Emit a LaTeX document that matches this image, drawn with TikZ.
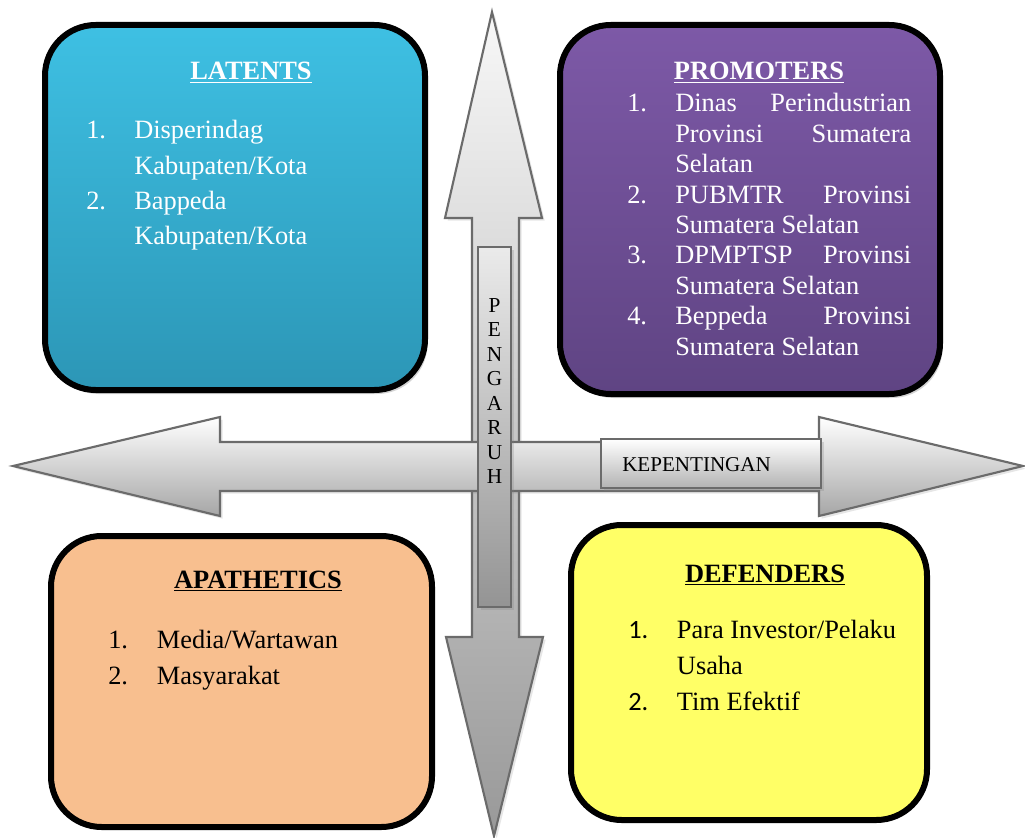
\documentclass[tikz,border=0pt]{standalone}
\usepackage{fontspec}
\setmainfont{Liberation Serif}
\newfontfamily\numfont{Carlito}
\usetikzlibrary{shadows}
\definecolor{latentblue}{RGB}{62,192,227}
\definecolor{latentbluedark}{RGB}{44,150,182}
\definecolor{promoterpurple}{RGB}{125,89,167}
\definecolor{promoterpurpledark}{RGB}{95,68,131}
\definecolor{apatheticorange}{RGB}{248,191,143}
\definecolor{defenderyellow}{RGB}{255,255,102}
\tikzset{
	boxstyle/.style={rectangle,rounded corners=38pt,draw=black,line width=4.5pt},
	arrowstyle/.style={draw=black!58,line width=1.6pt,line join=miter},
	labelstyle/.style={rectangle,draw=black!58,line width=1.6pt,inner sep=0pt},
	titlestyle/.style={anchor=base,inner sep=0pt,font=\fontsize{19.8}{24}\selectfont\bfseries},
	liststyle/.style={anchor=base west,inner sep=0pt,font=\fontsize{19.8}{#1}\selectfont}
}

\begin{document}
\begin{tikzpicture}[x=0.75pt,y=-0.75pt]
	\useasboundingbox (0,0) rectangle (1025,838);
	% arrows
	\draw[arrowstyle,top color=black!3,bottom color=black!40,drop shadow={opacity=0.2,shadow xshift=2pt,shadow yshift=-2pt}]
		(492,12) -- (542,218) -- (519,218) -- (519,637) -- (543,637) -- (494,836)
		-- (446,637) -- (472,637) -- (472,218) -- (445,218) -- cycle;
	\draw[arrowstyle,top color=white,bottom color=black!35,drop shadow={opacity=0.2,shadow xshift=2pt,shadow yshift=-2pt}]
		(13,466) -- (220,417) -- (220,442) -- (819,442) -- (819,417) -- (1023,466)
		-- (819,516) -- (819,491) -- (220,491) -- (220,516) -- cycle;
	% axis labels
	\node[labelstyle,minimum width=24.75pt,minimum height=270pt,top color=black!8,bottom color=black!42,
		drop shadow={opacity=0.25,shadow xshift=2pt,shadow yshift=-2pt}] (pengaruh) at (494.5,427) {};
	\node[align=center,inner sep=0pt,font=\fontsize{16}{18.4}\selectfont] (pengaruhtext) at (494.5,391)
		{P\\E\\N\\G\\A\\R\\U\\H};
	\node[labelstyle,minimum width=165pt,minimum height=36.75pt,top color=white,bottom color=black!30,
		drop shadow={opacity=0.25,shadow xshift=2pt,shadow yshift=-2pt}] (kepentingan) at (711,463.5) {};
	\node[anchor=base west,inner sep=0pt,font=\fontsize{15.8}{18}\selectfont] (kepentingantext) at (622,471) {KEPENTINGAN};
	% quadrants
	\node[boxstyle,minimum width=285pt,minimum height=273.75pt,top color=latentblue,bottom color=latentbluedark,
		drop shadow={opacity=0.35,shadow xshift=2pt,shadow yshift=-3pt}] (latents) at (235,207.5) {};
	\node[boxstyle,minimum width=285pt,minimum height=276.75pt,top color=promoterpurple,bottom color=promoterpurpledark,
		drop shadow={opacity=0.35,shadow xshift=2pt,shadow yshift=-3pt}] (promoters) at (750,209.5) {};
	\node[boxstyle,minimum width=285.75pt,minimum height=218.25pt,fill=apatheticorange] (apathetics) at (241.5,681.5) {};
	\node[boxstyle,minimum width=267pt,minimum height=221.25pt,fill=defenderyellow] (defenders) at (749,672.5) {};
	% texts
	\node[titlestyle,text=white] (latentstitle) at (251,80) {\underline{LATENTS}};
	\node[liststyle=26.5pt,text=white] (latentslist) at (86,139) {\begin{tabular}[t]{@{}p{36pt}@{}l@{}}
		1. & Disperindag\\
		 & Kabupaten/Kota\\
		2. & Bappeda\\
		 & Kabupaten/Kota
	\end{tabular}};
	\node[titlestyle,text=white] (promoterstitle) at (759,80) {\underline{PROMOTERS}};
	\node[liststyle=22.8pt,text=white] (promoterslist) at (627,112) {\begin{tabular}[t]{@{}p{36pt}@{}p{177pt}@{}}
		1. & Dinas\hfill Perindustrian\\
		 & Provinsi\hfill Sumatera\\
		 & Selatan\\
		2. & PUBMTR\hfill Provinsi\\
		 & Sumatera Selatan\\
		3. & DPMPTSP\hfill Provinsi\\
		 & Sumatera Selatan\\
		4. & Beppeda\hfill Provinsi\\
		 & Sumatera Selatan
	\end{tabular}};
	\node[titlestyle] (apatheticstitle) at (258,588) {\underline{APATHETICS}};
	\node[liststyle=27pt] (apatheticslist) at (108,648) {\begin{tabular}[t]{@{}p{36.5pt}@{}l@{}}
		1. & Media/Wartawan\\
		2. & Masyarakat
	\end{tabular}};
	\node[titlestyle] (defenderstitle) at (765,582) {\underline{DEFENDERS}};
	\node[liststyle=27pt] (defenderslist) at (628,638) {\begin{tabular}[t]{@{}p{36.5pt}@{}l@{}}
		{\numfont 1.} & Para Investor/Pelaku\\
		 & Usaha\\
		{\numfont 2.} & Tim Efektif
	\end{tabular}};
\end{tikzpicture}
\end{document}
